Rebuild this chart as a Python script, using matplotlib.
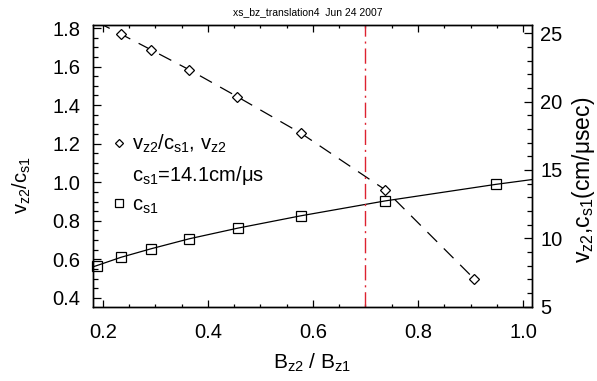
# plot.py
# Velocity ratio vs field ratio (xs_bz_translation4), redrawn with matplotlib

import matplotlib
matplotlib.use("Agg")
import matplotlib.pyplot as plt
from matplotlib.lines import Line2D
from matplotlib.ticker import MultipleLocator

# data
b_ratio = [0.235, 0.292, 0.365, 0.456, 0.578, 0.737, 0.907]
vz2_ratio = [1.768, 1.687, 1.583, 1.444, 1.253, 0.962, 0.499]

b_cs = [0.189, 0.235, 0.292, 0.365, 0.457, 0.577, 0.737, 0.948]
cs_ratio = [0.568, 0.611, 0.655, 0.707, 0.762, 0.826, 0.903, 0.989]

# the drawn curves run a little past the symbols
vz2_curve_b = [0.19, 0.235, 0.292, 0.365, 0.456, 0.578, 0.737, 0.907]
vz2_curve = [1.83, 1.768, 1.687, 1.583, 1.444, 1.253, 0.962, 0.499]
cs_curve_b = [0.181, 0.189, 0.235, 0.292, 0.365, 0.457, 0.577, 0.737, 0.948, 1.017]
cs_curve = [0.561, 0.568, 0.611, 0.655, 0.707, 0.762, 0.826, 0.903, 0.989, 1.014]

b_marker = 0.7        # red dash-dot line
cs1 = 14.1            # cm/us, scale of the right axis

xlim = (0.181, 1.017)
right_lim = (5.0, 25.6)

FS = 14.5

plt.rcParams["font.family"] = ["Liberation Sans", "DejaVu Sans"]
plt.rcParams["mathtext.fontset"] = "custom"
plt.rcParams["mathtext.rm"] = "Liberation Sans"
plt.rcParams["mathtext.default"] = "regular"
plt.rcParams["axes.linewidth"] = 1.0

fig = plt.figure(figsize=(5.97, 3.81), dpi=100)
ax = fig.add_axes([0.1553, 0.195, 0.7358, 0.7394])
ax2 = ax.twinx()

# curves
ax.plot(vz2_curve_b, vz2_curve, color="black", lw=0.9, linestyle=(0, (11, 7.5)))
ax.plot(cs_curve_b, cs_curve, color="black", lw=0.9)
ax.plot(b_ratio, vz2_ratio, linestyle="none", marker="D", markersize=5.2,
        markerfacecolor="white", markeredgecolor="black", markeredgewidth=0.9,
        clip_on=False, zorder=3)
ax.plot(b_cs, cs_ratio, linestyle="none", marker="s", markersize=7.6,
        markerfacecolor="none", markeredgecolor="black", markeredgewidth=0.9,
        clip_on=False, zorder=3)
ax.axvline(b_marker, color="#dd2230", lw=1.0, linestyle=(0, (11, 3.5, 1.5, 3.5)))

ax.set_xlim(*xlim)
ax.set_ylim(right_lim[0] / cs1, right_lim[1] / cs1)
ax2.set_ylim(*right_lim)

ax.xaxis.set_major_locator(MultipleLocator(0.2))
ax.xaxis.set_minor_locator(MultipleLocator(0.05))
ax.yaxis.set_major_locator(MultipleLocator(0.2))
ax.yaxis.set_minor_locator(MultipleLocator(0.05))
ax2.yaxis.set_major_locator(MultipleLocator(5))
ax2.yaxis.set_minor_locator(MultipleLocator(1))
ax.xaxis.set_major_formatter(plt.FuncFormatter(lambda v, p: f"{v:.1f}"))
ax.yaxis.set_major_formatter(plt.FuncFormatter(lambda v, p: f"{v:.1f}"))

ax.tick_params(axis="x", which="both", direction="in", top=True, labelsize=FS, pad=12)
ax.tick_params(axis="x", which="major", length=5, width=0.9)
ax.tick_params(axis="x", which="minor", length=2.5, width=0.9)
ax.tick_params(axis="y", which="both", direction="in", right=False, labelsize=FS, pad=9)
ax.tick_params(axis="y", which="major", length=6, width=0.9)
ax.tick_params(axis="y", which="minor", length=3.5, width=0.9)
ax2.tick_params(axis="y", which="both", direction="in", labelsize=FS, pad=6)
ax2.tick_params(axis="y", which="major", length=6, width=0.9)
ax2.tick_params(axis="y", which="minor", length=3.5, width=0.9)

ax.set_xlabel(r"$B_{z2}$ / $B_{z1}$", fontsize=FS + 0.5, labelpad=7)
ax.set_ylabel(r"$v_{z2}/c_{s1}$", fontsize=FS)
ax.yaxis.set_label_coords(-0.136, 0.43)
ax2.set_ylabel(r"$v_{z2}$,$c_{s1}$(cm/μsec)", fontsize=16.5)
ax2.yaxis.set_label_coords(1.086, 0.45)

fig.text(0.516, 0.969, "xs_bz_translation4  Jun 24 2007", fontsize=7.5,
         ha="center", va="center")

# legend block in the upper left
handles = [
    Line2D([], [], linestyle="none", marker="D", markersize=4.2,
           markerfacecolor="white", markeredgecolor="black", markeredgewidth=0.9),
    Line2D([], [], linestyle="none"),
    Line2D([], [], linestyle="none", marker="s", markersize=6,
           markerfacecolor="none", markeredgecolor="black", markeredgewidth=0.9),
]
labels = [r"$v_{z2}/c_{s1}$, $v_{z2}$", r"$c_{s1}$=14.1cm/μs", r"$c_{s1}$"]
ax.legend(handles, labels, loc="upper left", bbox_to_anchor=(0.018, 0.652),
          frameon=False, fontsize=FS, handlelength=0.8, handletextpad=0.25,
          labelspacing=0.42, borderpad=0.0)

fig.savefig("out.png", dpi=100)
